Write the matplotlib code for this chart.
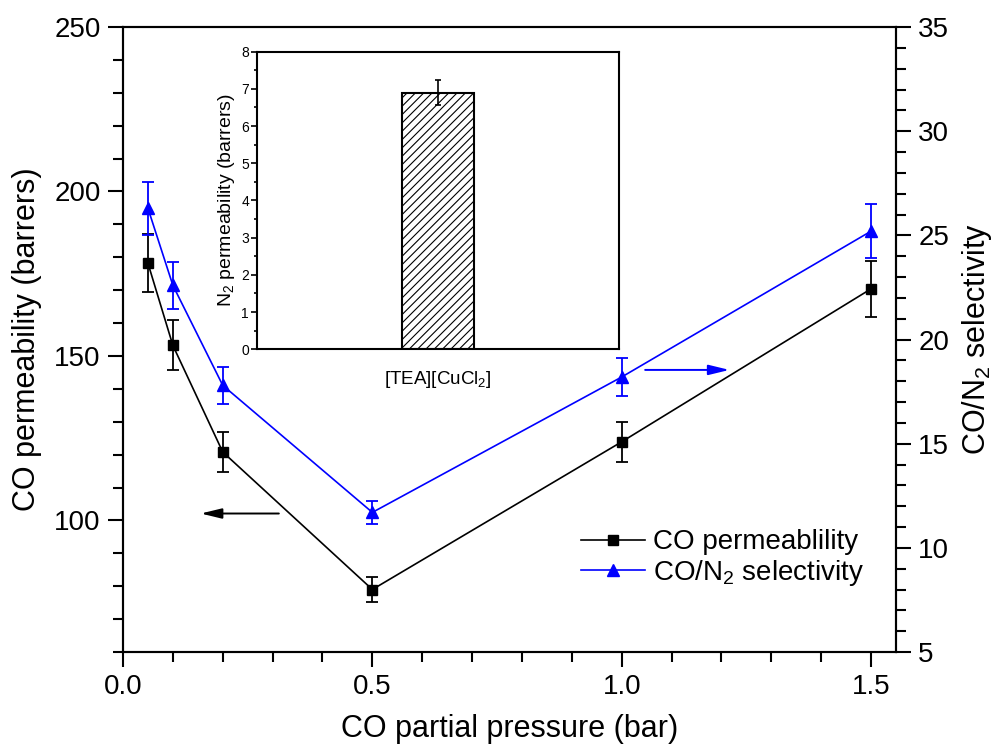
import numpy as np
import matplotlib
matplotlib.use('Agg')
import matplotlib.pyplot as plt
from matplotlib.ticker import MultipleLocator

plt.rcParams['font.family'] = ['Liberation Sans', 'DejaVu Sans']
plt.rcParams['mathtext.fontset'] = 'custom'
plt.rcParams['mathtext.rm'] = 'Liberation Sans'
plt.rcParams['mathtext.it'] = 'Liberation Sans:italic'
plt.rcParams['mathtext.default'] = 'regular'
plt.rcParams['hatch.linewidth'] = 0.8

# main data: CO partial pressure vs permeability / selectivity
pressure = [0.05, 0.1, 0.2, 0.5, 1.0, 1.5]
co_perm = [178.2, 153.2, 120.8, 79.0, 123.9, 170.4]
co_perm_err = [8.9, 7.6, 6.0, 3.9, 6.1, 8.5]
selectivity = [26.3, 22.6, 17.8, 11.7, 18.2, 25.2]
selectivity_err = [1.28, 1.12, 0.88, 0.57, 0.9, 1.3]

# inset data
n2_label = ['[TEA][CuCl$_2$]']
n2_perm = [6.9]
n2_perm_err = [0.34]

W, H = 993, 751
fig = plt.figure(figsize=(W / 100, H / 100), dpi=100)
ax = fig.add_axes([123 / W, 1 - 652 / H, 773 / W, 625 / H])
ax2 = ax.twinx()

# CO permeability (left axis)
ax.errorbar(pressure, co_perm, yerr=co_perm_err, fmt='none', ecolor='k',
            elinewidth=1.3, capsize=4.5, capthick=1.3)
l1, = ax.plot(pressure, co_perm, 'k-', marker='s', ms=7.5, lw=1.2,
              label='CO permeablility')

# selectivity (right axis)
ax2.errorbar(pressure, selectivity, yerr=selectivity_err, fmt='none', ecolor='blue',
             elinewidth=1.3, capsize=4.2, capthick=1.3)
l2, = ax2.plot(pressure, selectivity, '-', color='blue', marker='^', ms=8.5, lw=1.2,
               label='CO/N$_2$ selectivity')

ax.set_xlim(0, 1.55)
ax.set_ylim(60, 250)
ax2.set_ylim(5, 35)
ax.xaxis.set_major_locator(MultipleLocator(0.5))
ax.xaxis.set_minor_locator(MultipleLocator(0.1))
ax.yaxis.set_major_locator(MultipleLocator(50))
ax.yaxis.set_minor_locator(MultipleLocator(10))
ax2.yaxis.set_major_locator(MultipleLocator(5))
ax2.yaxis.set_minor_locator(MultipleLocator(1))

for a in (ax, ax2):
    for s in a.spines.values():
        s.set_linewidth(1.5)
    a.tick_params(which='both', direction='out', width=1.5, labelsize=20)
    a.tick_params(which='major', length=11, pad=5)
    a.tick_params(which='minor', length=7)
ax.tick_params(top=False, right=False, which='both')

ax.set_xlabel('CO partial pressure (bar)', fontsize=22, labelpad=10)
ax.set_ylabel('CO permeability (barrers)', fontsize=22, labelpad=9)
ax2.set_ylabel('CO/N$_2$ selectivity', fontsize=22, labelpad=8)

# arrows pointing to the axes
ax.annotate('', xy=(0.156, 102.1), xytext=(0.3125, 102.1),
            arrowprops=dict(arrowstyle='-|>,head_length=0.7,head_width=0.17',
                            color='k', lw=1.4, mutation_scale=18, shrinkA=0, shrinkB=0))
ax2.annotate('', xy=(1.216, 18.54), xytext=(1.047, 18.54),
             arrowprops=dict(arrowstyle='-|>,head_length=0.7,head_width=0.17',
                             color='blue', lw=1.4, mutation_scale=18, shrinkA=0, shrinkB=0))

ax2.legend([l1, l2], [l1.get_label(), l2.get_label()], loc='center left',
           bbox_to_anchor=(580.7 / W, 1 - 558.7 / H), bbox_transform=fig.transFigure,
           frameon=False, fontsize=20, handlelength=2.3, handletextpad=0.3,
           labelspacing=0.1, borderpad=0, borderaxespad=0)

# inset bar chart
axin = fig.add_axes([257.3 / W, 1 - 349.3 / H, 361.7 / W, 297.6 / H])
axin.bar([0], n2_perm, width=0.2, yerr=n2_perm_err, facecolor='white',
         edgecolor='k', hatch='////', linewidth=1.5,
         error_kw=dict(ecolor='k', capsize=2.5, elinewidth=1.2, capthick=1.2))
axin.set_xlim(-0.5, 0.5)
axin.set_ylim(0, 8)
axin.set_xticks([0])
axin.set_xticklabels(n2_label, fontsize=13.5)
axin.yaxis.set_major_locator(MultipleLocator(1))
axin.yaxis.set_minor_locator(MultipleLocator(0.5))
axin.tick_params(axis='x', length=0, pad=14)
axin.tick_params(axis='y', which='both', direction='out', width=1.2, labelsize=10, pad=2)
axin.tick_params(axis='y', which='major', length=4)
axin.tick_params(axis='y', which='minor', length=2.5)
for s in axin.spines.values():
    s.set_linewidth(1.5)
axin.set_ylabel('N$_2$ permeability (barrers)', fontsize=14, labelpad=3)

fig.savefig('out.png', dpi=100)
